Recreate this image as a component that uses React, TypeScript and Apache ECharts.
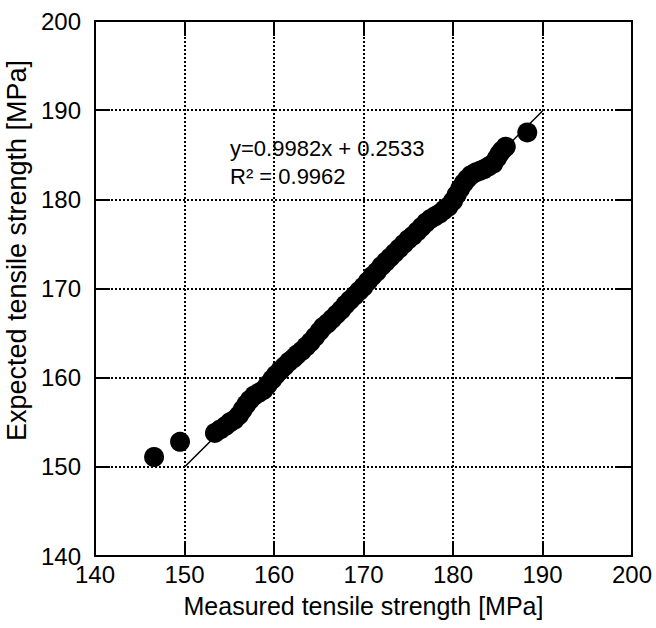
import React, { useEffect, useRef } from "react";
import * as echarts from "echarts";

const xTicks = [140, 150, 160, 170, 180, 190, 200];
const yTicks = [140, 150, 160, 170, 180, 190, 200];

const measured = [
  146.6, 149.5, 153.4, 154.0, 154.6, 155.1, 155.6, 156.1, 156.5, 156.9, 157.3, 157.8,
  158.3, 158.8, 159.3, 159.8, 160.2, 160.7, 161.2, 161.7, 162.2, 162.6, 163.1, 163.6,
  164.1, 164.6, 165.1, 165.5, 166.0, 166.5, 167.0, 167.5, 168.0, 168.5, 169.0, 169.5,
  170.0, 170.5, 171.0, 171.5, 172.0, 172.5, 173.0, 173.5, 174.0, 174.5, 175.0, 175.5,
  176.0, 176.5, 177.0, 177.5, 178.0, 178.5, 179.0, 179.5, 180.0, 180.4, 180.8, 181.2,
  181.6, 182.0, 182.5, 183.0, 183.5, 184.0, 184.5, 184.9, 185.2, 185.5, 185.9, 188.3,
];
const expected = [
  151.1, 152.8, 153.8, 154.2, 154.6, 155.0, 155.3, 155.8, 156.4, 157.0, 157.5, 158.0,
  158.3, 158.6, 159.2, 159.8, 160.3, 160.8, 161.3, 161.8, 162.2, 162.6, 163.0, 163.5,
  164.0, 164.6, 165.2, 165.7, 166.1, 166.6, 167.1, 167.6, 168.2, 168.7, 169.2, 169.7,
  170.2, 170.8, 171.4, 171.9, 172.5, 173.0, 173.5, 174.0, 174.5, 175.0, 175.5, 175.9,
  176.4, 176.9, 177.4, 177.8, 178.1, 178.4, 178.8, 179.2, 179.8, 180.5, 181.2, 181.8,
  182.3, 182.7, 183.0, 183.2, 183.4, 183.7, 184.0, 184.6, 185.1, 185.5, 185.9, 187.5,
];

const fitX = [150, 190];
const fitY = [149.98, 189.91];

const fitLabel = "y=0.9982x + 0.2533";
const r2Label = "R² = 0.9962";

const FONT = '"Liberation Sans", Arial, Helvetica, sans-serif';

export default function App() {
  const ref = useRef<HTMLDivElement>(null);
  useEffect(() => {
    if (!ref.current) return;
    const chart = echarts.init(ref.current, undefined, { renderer: "svg" });
    const axisLine = { show: true, lineStyle: { color: "#000", width: 2 } };
    const axisTick = { show: true, inside: true, length: 15, lineStyle: { color: "#000", width: 2 } };
    const splitLine = { show: true, lineStyle: { color: "#000", width: 2, type: [2, 2] as any } };
    const common = {
      type: "value" as const,
      min: xTicks[0],
      max: xTicks[xTicks.length - 1],
      interval: 10,
    };
    chart.setOption({
      animation: false,
      backgroundColor: "#fff",
      grid: { left: 95, right: 24, top: 21, bottom: 72, containLabel: false, outerBoundsMode: "none" },
      xAxis: [
        {
          ...common,
          position: "bottom",
          axisLine,
          axisTick,
          splitLine,
          axisLabel: { fontSize: 24, color: "#000", fontFamily: FONT, margin: 6 },
          name: "Measured tensile strength [MPa]",
          nameLocation: "middle",
          nameGap: 37,
          nameTextStyle: { fontSize: 25, color: "#000", fontFamily: FONT },
        },
        {
          ...common,
          position: "top",
          axisLine,
          axisTick,
          splitLine: { show: false },
          axisLabel: { show: false },
        },
      ],
      yAxis: [
        {
          ...common,
          min: yTicks[0],
          max: yTicks[yTicks.length - 1],
          position: "left",
          axisLine,
          axisTick,
          splitLine,
          axisLabel: { fontSize: 24, color: "#000", fontFamily: FONT, margin: 14 },
          name: "Expected tensile strength [MPa]",
          nameLocation: "middle",
          nameGap: 61,
          nameTextStyle: { fontSize: 27, color: "#000", fontFamily: FONT, padding: [0, 0, 0, 76] },
        },
        {
          ...common,
          min: yTicks[0],
          max: yTicks[yTicks.length - 1],
          position: "right",
          axisLine,
          axisTick,
          splitLine: { show: false },
          axisLabel: { show: false },
        },
      ],
      graphic: [
        {
          type: "text",
          x: 230,
          y: 148,
          z: 10,
          style: { text: fitLabel, font: `22px ${FONT}`, fill: "#000", textAlign: "left", textVerticalAlign: "middle" },
        },
        {
          type: "text",
          x: 230,
          y: 176,
          z: 10,
          style: { text: r2Label, font: `22px ${FONT}`, fill: "#000", textAlign: "left", textVerticalAlign: "middle" },
        },
      ],
      series: [
        {
          type: "line",
          data: fitX.map((x, i) => [x, fitY[i]]),
          showSymbol: false,
          symbol: "none",
          lineStyle: { color: "#000", width: 1.5 },
          z: 2,
        },
        {
          type: "scatter",
          data: measured.map((x, i) => [x, expected[i]]),
          symbol: "circle",
          symbolSize: 20,
          itemStyle: { color: "#000", opacity: 1 },
          z: 3,
        },
      ],
    });
    return () => chart.dispose();
  }, []);
  return (
    <div
      ref={ref}
      style={{ position: "fixed", left: 0, top: 0, width: 656, height: 628, background: "#fff" }}
    />
  );
}
